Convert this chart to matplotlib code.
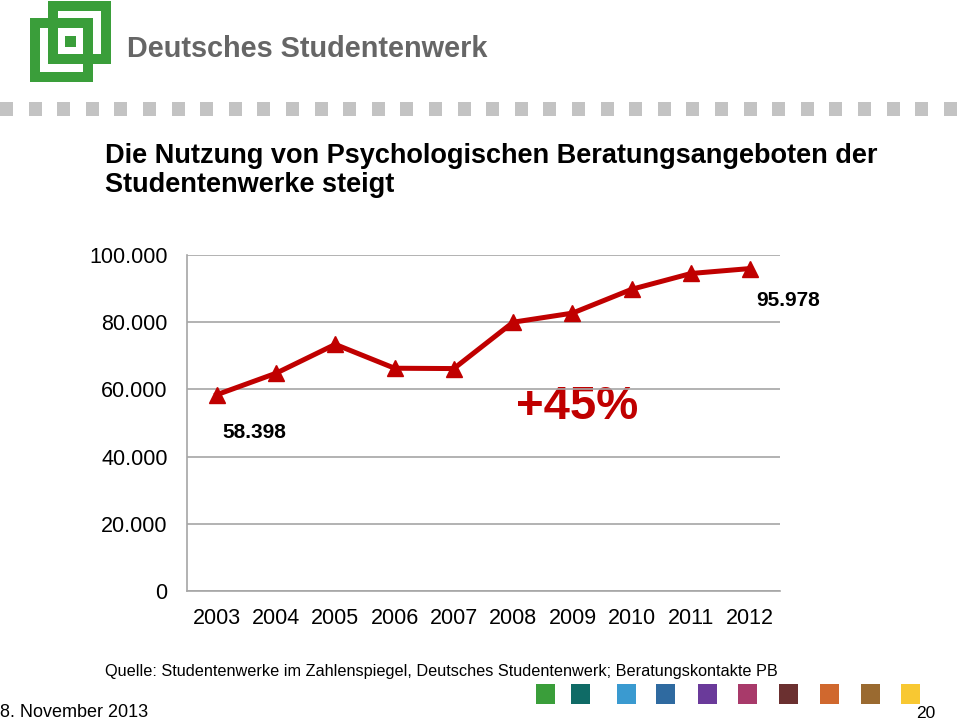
import matplotlib
matplotlib.use("Agg")
import matplotlib.pyplot as plt
from matplotlib.patches import Rectangle

plt.rcParams['font.family'] = ['Liberation Sans', 'DejaVu Sans']

# ---- data ----
years = ["2003", "2004", "2005", "2006", "2007", "2008", "2009", "2010", "2011", "2012"]
contacts = [58398, 64800, 73400, 66300, 66200, 80000, 82700, 89800, 94500, 95978]
yticks = [0, 20000, 40000, 60000, 80000, 100000]
ytick_labels = ["0", "20.000", "40.000", "60.000", "80.000", "100.000"]
title_lines = ["Die Nutzung von Psychologischen Beratungsangeboten der",
               "Studentenwerke steigt"]
source = "Quelle: Studentenwerke im Zahlenspiegel, Deutsches Studentenwerk; Beratungskontakte PB"
date_text = "8. November 2013"
page_no = "20"
growth_label = "+45%"
palette = ["#3a9e3a", "#0f6b66", "#3a9ad0", "#2f6aa0", "#6a3a9a",
           "#a83a6a", "#6b3030", "#d0682e", "#9a6a30", "#f8c832"]

W, H = 960, 722
fig = plt.figure(figsize=(W / 100, H / 100), dpi=100)
fig.patch.set_facecolor("white")

# background overlay in pixel coordinates
bg = fig.add_axes([0, 0, 1, 1])
bg.set_xlim(0, W)
bg.set_ylim(H, 0)
bg.axis("off")
bg.set_zorder(0)

green = "#3a9e3a"
# logo: two overlapping square frames and a centre square
def frame(x0, y0, x1, y1, t):
    bg.add_patch(Rectangle((x0, y0), x1 - x0, t, color=green, lw=0))
    bg.add_patch(Rectangle((x0, y1 - t), x1 - x0, t, color=green, lw=0))
    bg.add_patch(Rectangle((x0, y0), t, y1 - y0, color=green, lw=0))
    bg.add_patch(Rectangle((x1 - t, y0), t, y1 - y0, color=green, lw=0))

frame(48, 1, 111, 64, 10)
frame(30, 18, 93, 82, 10)
bg.add_patch(Rectangle((65, 36), 11, 11, color=green, lw=0))
bg.text(127, 57, "Deutsches Studentenwerk", fontsize=20.8, fontweight="heavy",
        color="#666666", va="baseline", ha="left")

# dotted grey band
x = 0
while x < W:
    bg.add_patch(Rectangle((x, 102), 13, 14, color="#c3c3c3", lw=0))
    x += 28.6

# title
bg.text(105, 163, title_lines[0], fontsize=19.5, fontweight="bold", va="baseline", ha="left")
bg.text(105, 192, title_lines[1], fontsize=19.5, fontweight="bold", va="baseline", ha="left")

# source / footer
bg.text(105, 676, source, fontsize=11.7, va="baseline", ha="left")
bg.text(0, 721, date_text, fontsize=13, va="bottom", ha="left")
bg.text(935, 721, page_no, fontsize=12.5, va="bottom", ha="right")

sq_x = [536, 571, 617, 656, 698, 738, 779, 820, 861, 901]
for xx, c in zip(sq_x, palette):
    bg.add_patch(Rectangle((xx, 684), 19, 20, color=c, lw=0))

# main chart
left, right, top, bottom = 187, 780, 255, 591
ax = fig.add_axes([left / W, 1 - bottom / H, (right - left) / W, (bottom - top) / H])
ax.set_zorder(1)
ax.patch.set_alpha(0)
xs = list(range(len(years)))
ax.plot(xs, contacts, color="#c00000", lw=3.6, marker="^", markersize=11,
        markeredgecolor="#c00000", solid_joinstyle="round", zorder=3, clip_on=False)
ax.set_xlim(-0.5, len(years) - 0.5)
ax.set_ylim(0, 100000)
ax.set_yticks(yticks)
ax.set_yticklabels(ytick_labels)
ax.set_xticks(xs)
ax.set_xticklabels(years)
ax.tick_params(axis="both", length=0, labelsize=15.5)
ax.tick_params(axis="y", pad=14)
ax.tick_params(axis="x", pad=12)
ax.grid(axis="y", color="#a6a6a6", lw=1.2)
ax.set_axisbelow(True)
for s in ["top", "right"]:
    ax.spines[s].set_visible(False)
for s in ["left", "bottom"]:
    ax.spines[s].set_color("#a6a6a6")
    ax.spines[s].set_linewidth(1.2)

ax.annotate(f"{contacts[0]:,}".replace(",", "."), xy=(0, contacts[0]),
            xytext=(27, -27), textcoords="offset points", ha="center", va="center",
            fontsize=15, fontweight="bold")
ax.annotate(f"{contacts[-1]:,}".replace(",", "."), xy=(9, contacts[-1]),
            xytext=(27, -23), textcoords="offset points", ha="center", va="center",
            fontsize=15, fontweight="bold", annotation_clip=False)
bg.text(577, 407, growth_label, fontsize=34, fontweight="bold", color="#c00000",
        ha="center", va="center")

fig.savefig("out.png", dpi=100)
